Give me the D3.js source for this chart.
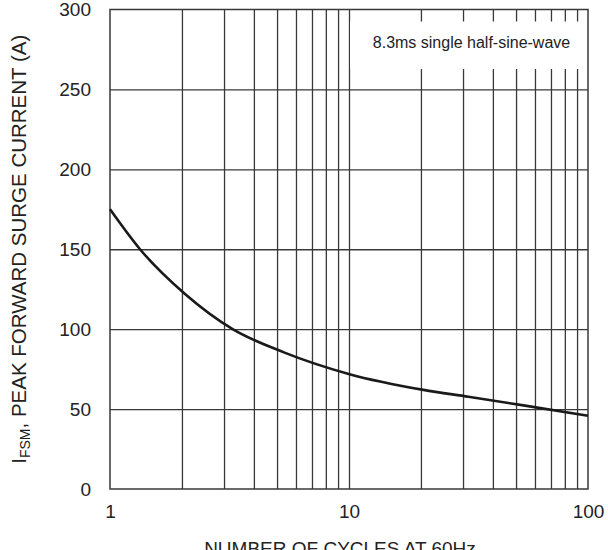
<!DOCTYPE html>
<html>
<head>
<meta charset="utf-8">
<script src="https://cdn.jsdelivr.net/npm/d3@7"></script>
<style>
  body { margin: 0; background: #fff; }
  text { font-family: "Liberation Sans", Arial, sans-serif; fill: #222; }
</style>
</head>
<body>
<div id="chart"></div>
<script>
// surge curve (cycles, amps)
var cycles  = [1, 1.335, 2.06, 3.26, 5.34, 9.97, 20.5, 31.6, 53.7, 100];
var current = [175, 150, 122, 100, 85.5, 72, 62, 57.7, 52.3, 45.8];

var xGrid = [2, 3, 4, 5, 6, 7, 8, 9, 10, 20, 30, 40, 50, 60, 70, 80, 90];
var xLabels = [1, 10, 100];
var yTicks = [0, 50, 100, 150, 200, 250, 300];
var noteText = "8.3ms single half-sine-wave";

var margin = {top: 9.5, right: 20, bottom: 61, left: 110},
    width = 608 - margin.left - margin.right,
    height = 550 - margin.top - margin.bottom;

var svg = d3.select("#chart")
  .append("svg")
  .attr("width", 608)
  .attr("height", 550)
  .append("g")
  .attr("transform", "translate(" + margin.left + "," + margin.top + ")");

var x = d3.scaleLog().domain([1, 100]).range([0, width]);
var y = d3.scaleLinear().domain([0, 300]).range([height, 0]);

// grid
svg.append("g")
  .attr("class", "grid")
  .attr("transform", "translate(0," + height + ")")
  .call(d3.axisBottom(x).tickValues(xGrid).tickSize(-height).tickFormat(""))
  .call(function(g) { g.select(".domain").remove(); });

svg.append("g")
  .attr("class", "grid")
  .call(d3.axisLeft(y).tickValues(yTicks.slice(1, -1)).tickSize(-width).tickFormat(""))
  .call(function(g) { g.select(".domain").remove(); });

svg.selectAll(".grid line")
  .attr("stroke", "#383838")
  .attr("stroke-width", 1.3);

// frame
svg.append("rect")
  .attr("x", 0).attr("y", 0)
  .attr("width", width).attr("height", height)
  .attr("fill", "none")
  .attr("stroke", "#383838")
  .attr("stroke-width", 1.5);

// note box covers the grid
var boxX = x(10) + 1, boxW = x(100) - 7 - boxX;
svg.append("rect")
  .attr("x", boxX).attr("y", 12)
  .attr("width", boxW).attr("height", 47.5)
  .attr("fill", "#fff");
svg.append("text")
  .attr("x", boxX + boxW / 2 + 6)
  .attr("y", 38.5)
  .attr("text-anchor", "middle")
  .style("font-size", "16px")
  .text(noteText);

// curve
var pts = cycles.map(function(c, i) { return [c, current[i]]; });
var line = d3.line()
  .x(function(d) { return x(d[0]); })
  .y(function(d) { return y(d[1]); })
  .curve(d3.curveMonotoneX);

svg.append("path")
  .datum(pts)
  .attr("d", line)
  .attr("fill", "none")
  .attr("stroke", "#1a1a1a")
  .attr("stroke-width", 2.6);

// axis labels
var yAxis = svg.append("g")
  .call(d3.axisLeft(y).tickValues(yTicks).tickSize(0).tickPadding(19));
var xAxis = svg.append("g")
  .attr("transform", "translate(0," + height + ")")
  .call(d3.axisBottom(x).tickValues(xLabels).tickSize(0).tickPadding(16).tickFormat(d3.format("d")));
yAxis.select(".domain").remove();
xAxis.select(".domain").remove();
yAxis.selectAll("text").style("font-size", "19px").attr("fill", "#222");
xAxis.selectAll("text").style("font-size", "19px").attr("fill", "#222");

// titles
svg.append("text")
  .attr("x", 230)
  .attr("y", height + 66)
  .attr("text-anchor", "middle")
  .style("font-size", "19px")
  .text("NUMBER OF CYCLES AT 60Hz");

var yt = svg.append("text")
  .attr("transform", "translate(" + (-84) + "," + (height / 2) + ") rotate(-90)")
  .attr("text-anchor", "middle")
  .style("font-size", "20.5px");
yt.append("tspan").text("I");
yt.append("tspan").attr("dy", 4).style("font-size", "14px").text("FSM");
yt.append("tspan").attr("dy", -4).text(", PEAK FORWARD SURGE CURRENT (A)");
</script>
</body>
</html>
